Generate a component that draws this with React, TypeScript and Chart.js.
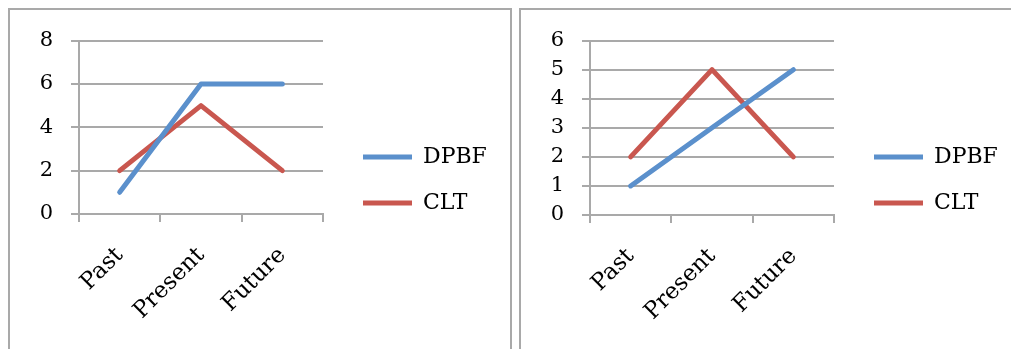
import { useEffect, useRef } from 'react';
import { Chart, registerables } from 'chart.js';

Chart.register(...registerables);

// Categories, series and axis ticks for the two panels
const periods = ['Past', 'Present', 'Future'];
const seriesNames = ['DPBF', 'CLT'];

const leftDpbf = [1, 6, 6];
const leftClt = [2, 5, 2];
const leftTicks = [0, 2, 4, 6, 8];

const rightDpbf = [1, 3, 5];
const rightClt = [2, 5, 2];
const rightTicks = [0, 1, 2, 3, 4, 5, 6];

const BLUE = '#5b90cc';
const RED = '#c9574f';
const GRID = '#a9a9a9';
const FONT = "'DejaVu Serif', serif";

type PanelProps = {
  dpbf: number[];
  clt: number[];
  ticks: number[];
  padTop: number;
  padBottom: number;
};

function LinePanel({ dpbf, clt, ticks, padTop, padBottom }: PanelProps) {
  const ref = useRef<HTMLCanvasElement | null>(null);

  useEffect(() => {
    if (!ref.current) return;
    const line = (label: string, data: number[], color: string) => ({
      label,
      data,
      borderColor: color,
      backgroundColor: color,
      borderWidth: 5,
      borderCapStyle: 'round' as const,
      borderJoinStyle: 'round' as const,
      pointRadius: 0,
      pointHoverRadius: 0,
      pointStyle: 'line' as const,
      tension: 0,
      yAxisID: 'y',
    });

    const chart = new Chart(ref.current, {
      type: 'line',
      data: {
        labels: periods,
        datasets: [line(seriesNames[0], dpbf, BLUE), line(seriesNames[1], clt, RED)],
      },
      options: {
        responsive: false,
        animation: false,
        devicePixelRatio: 1,
        events: [],
        layout: { padding: { left: 20, top: padTop, right: 21, bottom: padBottom } },
        plugins: {
          tooltip: { enabled: false },
          legend: {
            position: 'right',
            maxWidth: 150,
            labels: {
              usePointStyle: true,
              pointStyleWidth: 49,
              padding: 24,
              color: '#000',
              font: { family: FONT, size: 22 },
            },
          },
        },
        scales: {
          x: {
            offset: true,
            grid: {
              display: true,
              offset: true,
              drawOnChartArea: false,
              drawTicks: true,
              tickLength: 8,
              color: GRID,
              lineWidth: 2,
            },
            border: { display: true, color: GRID, width: 2 },
            ticks: {
              autoSkip: false,
              minRotation: 45,
              maxRotation: 45,
              padding: 20,
              color: '#000',
              font: { family: FONT, size: 23 },
            },
            afterFit: (s: any) => {
              s.height = 108;
            },
          },
          y: {
            min: ticks[0],
            max: ticks[ticks.length - 1],
            ticks: {
              stepSize: ticks[1] - ticks[0],
              padding: 18,
              color: '#000',
              font: { family: FONT, size: 21 },
            },
            grid: { color: GRID, lineWidth: 2, tickLength: 8 },
            border: { color: GRID, width: 2 },
            afterFit: (s: any) => {
              s.width = 49;
            },
          },
          // empty spacer between the plot and the legend
          gap: {
            type: 'linear',
            position: 'right',
            display: true,
            grid: { display: false },
            ticks: { display: false },
            border: { display: false },
            afterFit: (s: any) => {
              s.width = 16;
            },
          },
        },
      },
    });
    return () => chart.destroy();
  }, [dpbf, clt, ticks, padTop, padBottom]);

  return <canvas ref={ref} width={500} height={339} style={{ display: 'block' }} />;
}

const panelStyle = (left: number): React.CSSProperties => ({
  position: 'absolute',
  left,
  top: 0,
  width: 500,
  height: 339,
  borderTop: `2px solid ${GRID}`,
  borderLeft: `2px solid ${GRID}`,
  borderRight: `2px solid ${GRID}`,
  background: '#fff',
});

export default function App() {
  return (
    <div
      style={{
        position: 'fixed',
        left: 8,
        top: 8,
        width: 1003,
        height: 341,
        overflow: 'hidden',
        background: '#fff',
      }}
    >
      <div style={panelStyle(0)}>
        <LinePanel dpbf={leftDpbf} clt={leftClt} ticks={leftTicks} padTop={28} padBottom={27} />
      </div>
      <div style={panelStyle(511)}>
        <LinePanel dpbf={rightDpbf} clt={rightClt} ticks={rightTicks} padTop={27} padBottom={26} />
      </div>
    </div>
  );
}
